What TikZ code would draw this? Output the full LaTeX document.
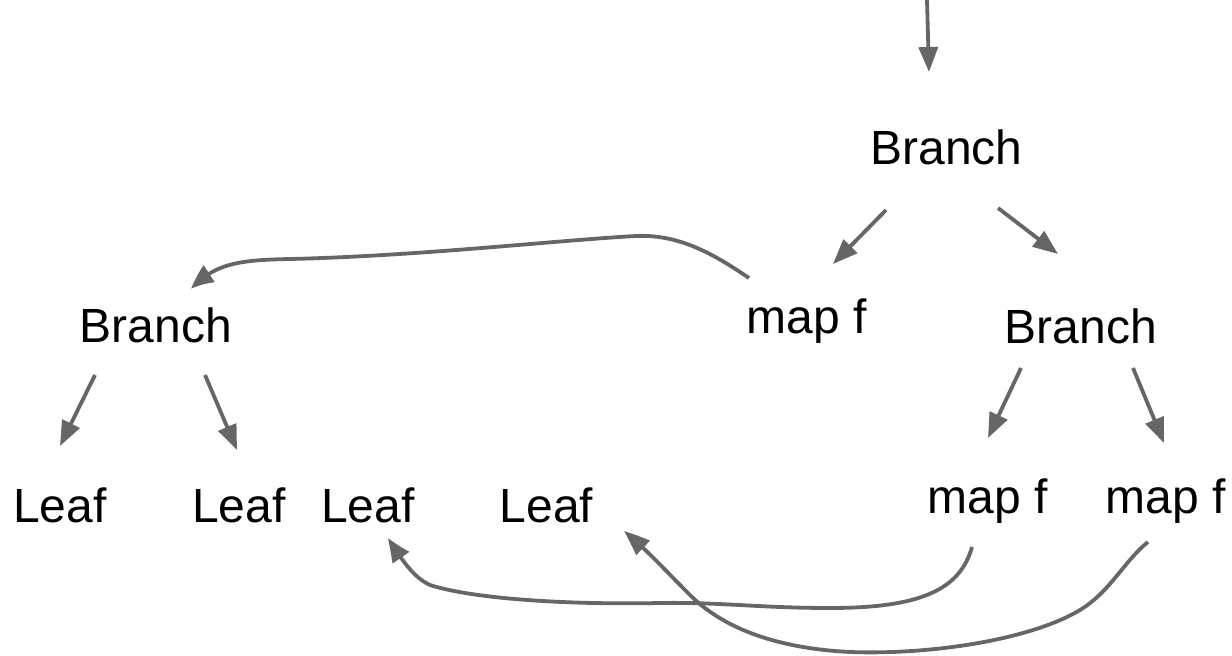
\documentclass[tikz,border=0pt]{standalone}
\usepackage{fontspec}
\setmainfont{Liberation Sans}
\usetikzlibrary{arrows.meta,bending}
\definecolor{edgegray}{HTML}{666666}
\begin{document}
\begin{tikzpicture}[x=1pt,y=-1pt,
  lbl/.style={inner sep=0pt, anchor=base, text=black, font=\fontsize{48}{56}\selectfont},
  edge/.style={draw=edgegray, line width=3.8pt,
    -{Triangle[length=25pt,width=19pt,bend]}, fill=none}]
\useasboundingbox (0,0) rectangle (1232,656);

% tree nodes
\node[lbl] (tb)  at (946.5,164) {Branch};
\node[lbl] (lb)  at (156,342)   {Branch};
\node[lbl] (mfa) at (807,333)   {map f};
\node[lbl] (rb)  at (1081,343)  {Branch};
\node[lbl] (lf1) at (60,522)    {Leaf};
\node[lbl] (lf2) at (239,522)   {Leaf};
\node[lbl] (lf3) at (368,522)   {Leaf};
\node[lbl] (lf4) at (546.5,522) {Leaf};
\node[lbl] (mfb) at (988,513)   {map f};
\node[lbl] (mfc) at (1166,513)  {map f};

% connector end points, placed around the nodes
\coordinate (entry) at (927,0);
\coordinate (tb-in)  at ([shift={(-17.5,-92)}]tb.base);
\coordinate (tb-l)   at ([shift={(-60.5,46)}]tb.base);
\coordinate (tb-r)   at ([shift={(51.5,44)}]tb.base);
\coordinate (mfa-in) at ([shift={(26,-69)}]mfa.base);
\coordinate (rb-in)  at ([shift={(-23,-89)}]rb.base);
\coordinate (rb-l)   at ([shift={(-60,25)}]rb.base);
\coordinate (rb-r)   at ([shift={(52,25)}]rb.base);
\coordinate (mfb-in) at ([shift={(0,-75)}]mfb.base);
\coordinate (mfc-in) at ([shift={(-2,-70)}]mfc.base);
\coordinate (lb-l)   at ([shift={(-61,33)}]lb.base);
\coordinate (lb-r)   at ([shift={(49,33)}]lb.base);
\coordinate (lf1-in) at ([shift={(0,-76)}]lf1.base);
\coordinate (lf2-in) at ([shift={(-2,-72)}]lf2.base);
\coordinate (mfa-out) at ([shift={(-58,-55)}]mfa.base);
\coordinate (lb-in)  at ([shift={(35,-53)}]lb.base);
\coordinate (mfb-out) at ([shift={(-16,34)}]mfb.base);
\coordinate (lf3-in) at ([shift={(20,16)}]lf3.base);
\coordinate (mfc-out) at ([shift={(-18,29)}]mfc.base);
\coordinate (lf4-in) at ([shift={(77.5,9)}]lf4.base);

% straight connectors
\draw[edge] (entry) -- (tb-in);
\draw[edge] (tb-l) -- (mfa-in);
\draw[edge] (tb-r) -- (rb-in);
\draw[edge] (rb-l) -- (mfb-in);
\draw[edge] (rb-r) -- (mfc-in);
\draw[edge] (lb-l) -- (lf1-in);
\draw[edge] (lb-r) -- (lf2-in);

% curved connectors
\draw[edge] (mfa-out) .. controls (715,255) and (680,234) .. (636,236)
  .. controls (560,240) and (420,256) .. (290,259)
  .. controls (240,260) and (215,263) .. (lb-in);
\draw[edge] (mfb-out) .. controls (960,590) and (920,608) .. (830,608)
  .. controls (760,608) and (720,602) .. (660,603)
  .. controls (560,605) and (470,598) .. (430,585)
  .. controls (415,578) and (405,565) .. (lf3-in);
\draw[edge] (mfc-out) .. controls (1125,560) and (1110,592) .. (1080,610)
  .. controls (1030,640) and (930,655) .. (850,652)
  .. controls (770,648) and (720,625) .. (690,595)
  .. controls (665,570) and (645,548) .. (lf4-in);
\end{tikzpicture}
\end{document}
